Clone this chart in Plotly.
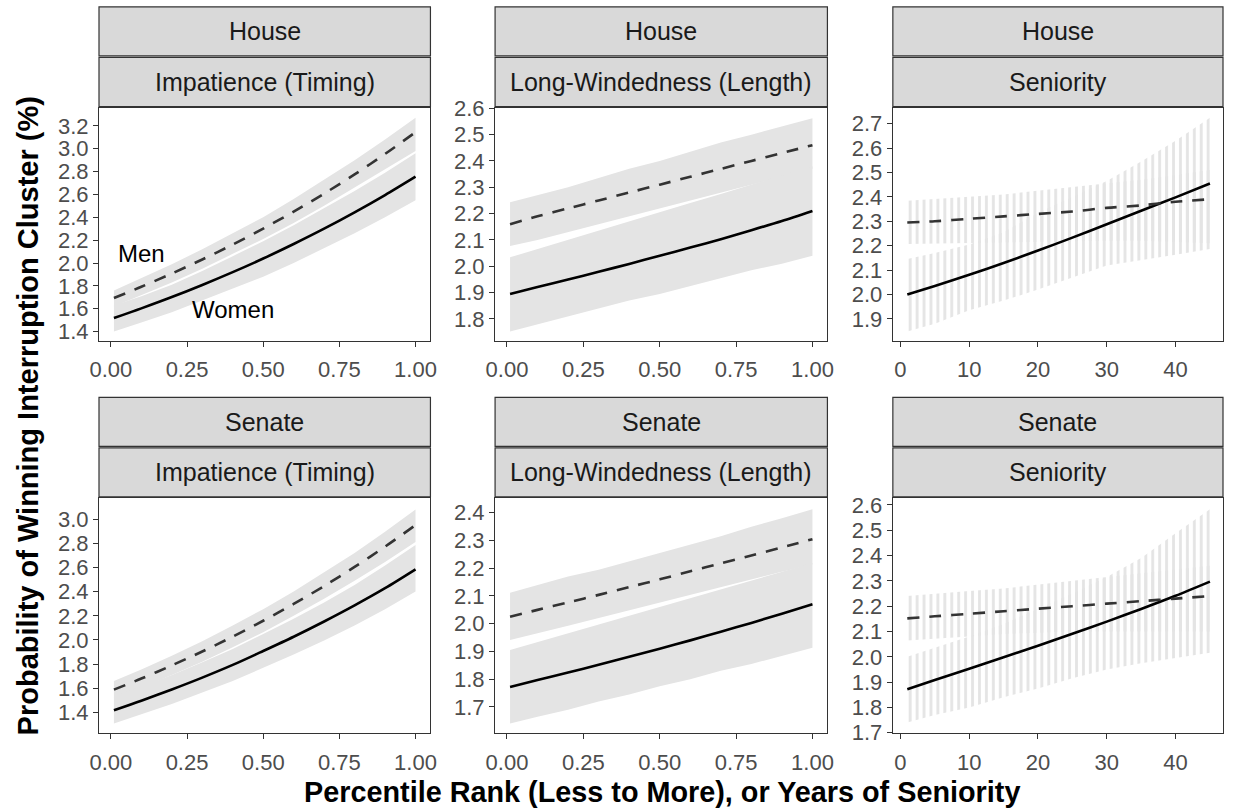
import plotly.graph_objects as go

# ---------------- data ----------------
chambers = ["House", "Senate"]
measures = ["Impatience (Timing)", "Long-Windedness (Length)", "Seniority"]

XP = [0.01, 0.1, 0.2, 0.3, 0.4, 0.5, 0.6, 0.7, 0.8, 0.9, 1.0]
XS = [1, 5, 10, 15, 20, 25, 30, 35, 40, 45]

# House - Impatience
h_imp_w = [1.518, 1.603, 1.702, 1.808, 1.920, 2.039, 2.166, 2.300, 2.443, 2.594, 2.755]
h_imp_w_lo = [1.40, 1.48, 1.57, 1.67, 1.775, 1.88, 2.00, 2.13, 2.26, 2.40, 2.55]
h_imp_w_hi = [1.63, 1.71, 1.81, 1.93, 2.06, 2.19, 2.33, 2.48, 2.63, 2.79, 2.96]
h_imp_m = [1.694, 1.792, 1.908, 2.031, 2.161, 2.301, 2.449, 2.607, 2.775, 2.954, 3.144]
h_imp_m_lo = [1.62, 1.72, 1.83, 1.95, 2.08, 2.21, 2.35, 2.50, 2.66, 2.82, 2.98]
h_imp_m_hi = [1.76, 1.87, 1.99, 2.12, 2.26, 2.40, 2.56, 2.73, 2.90, 3.08, 3.27]

# House - Long-Windedness
h_len_w = [1.895, 1.921, 1.950, 1.979, 2.009, 2.040, 2.071, 2.103, 2.137, 2.172, 2.21]
h_len_w_lo = [1.752, 1.78, 1.81, 1.84, 1.87, 1.895, 1.925, 1.955, 1.985, 2.01, 2.04]
h_len_w_hi = [2.034, 2.065, 2.10, 2.135, 2.17, 2.205, 2.24, 2.275, 2.31, 2.345, 2.38]
h_len_m = [2.16, 2.19, 2.22, 2.25, 2.28, 2.31, 2.34, 2.37, 2.40, 2.43, 2.46]
h_len_m_lo = [2.077, 2.10, 2.13, 2.16, 2.19, 2.22, 2.25, 2.28, 2.31, 2.34, 2.37]
h_len_m_hi = [2.243, 2.27, 2.30, 2.335, 2.37, 2.40, 2.435, 2.47, 2.50, 2.53, 2.562]

# House - Seniority
h_sen_w = [2.00, 2.035, 2.081, 2.129, 2.180, 2.233, 2.288, 2.343, 2.398, 2.455]
h_sen_w_lo = [1.848, 1.88, 1.935, 1.975, 2.02, 2.07, 2.119, 2.14, 2.163, 2.186]
h_sen_w_hi = [2.145, 2.17, 2.205, 2.255, 2.335, 2.40, 2.465, 2.545, 2.63, 2.724]
h_sen_m = [2.295, 2.30, 2.31, 2.32, 2.33, 2.34, 2.355, 2.365, 2.38, 2.39]
h_sen_m_lo = [2.207, 2.208, 2.21, 2.213, 2.215, 2.218, 2.22, 2.22, 2.215, 2.21]
h_sen_m_hi = [2.384, 2.39, 2.40, 2.41, 2.425, 2.44, 2.455, 2.47, 2.49, 2.51]

# Senate - Impatience
s_imp_w = [1.419, 1.498, 1.591, 1.689, 1.794, 1.909, 2.027, 2.153, 2.286, 2.428, 2.584]
s_imp_w_lo = [1.31, 1.385, 1.47, 1.565, 1.66, 1.77, 1.88, 1.995, 2.12, 2.255, 2.40]
s_imp_w_hi = [1.53, 1.615, 1.71, 1.815, 1.925, 2.05, 2.175, 2.31, 2.455, 2.615, 2.785]
s_imp_m = [1.59, 1.681, 1.790, 1.905, 2.028, 2.159, 2.298, 2.446, 2.604, 2.772, 2.95]
s_imp_m_lo = [1.52, 1.605, 1.71, 1.82, 1.94, 2.065, 2.20, 2.34, 2.49, 2.645, 2.81]
s_imp_m_hi = [1.66, 1.755, 1.87, 1.99, 2.12, 2.255, 2.40, 2.56, 2.72, 2.895, 3.08]

# Senate - Long-Windedness
s_len_w = [1.772, 1.797, 1.824, 1.852, 1.881, 1.910, 1.940, 1.971, 2.003, 2.036, 2.07]
s_len_w_lo = [1.64, 1.665, 1.69, 1.72, 1.745, 1.775, 1.80, 1.83, 1.855, 1.885, 1.913]
s_len_w_hi = [1.905, 1.934, 1.965, 1.997, 2.029, 2.06, 2.092, 2.124, 2.155, 2.187, 2.219]
s_len_m = [2.025, 2.050, 2.077, 2.104, 2.132, 2.160, 2.189, 2.218, 2.246, 2.275, 2.305]
s_len_m_lo = [1.941, 1.966, 1.993, 2.021, 2.049, 2.076, 2.104, 2.131, 2.159, 2.187, 2.214]
s_len_m_hi = [2.112, 2.14, 2.17, 2.195, 2.225, 2.255, 2.285, 2.315, 2.35, 2.38, 2.413]

# Senate - Seniority
s_sen_w = [1.872, 1.908, 1.953, 1.998, 2.044, 2.091, 2.139, 2.189, 2.241, 2.297]
s_sen_w_lo = [1.74, 1.77, 1.80, 1.84, 1.875, 1.915, 1.95, 1.975, 1.995, 2.016]
s_sen_w_hi = [2.0, 2.035, 2.08, 2.13, 2.19, 2.25, 2.315, 2.39, 2.488, 2.583]
s_sen_m = [2.152, 2.16, 2.17, 2.18, 2.19, 2.20, 2.21, 2.22, 2.23, 2.24]
s_sen_m_lo = [2.064, 2.07, 2.08, 2.09, 2.095, 2.10, 2.10, 2.10, 2.10, 2.10]
s_sen_m_hi = [2.24, 2.25, 2.26, 2.27, 2.285, 2.30, 2.315, 2.33, 2.345, 2.36]

pct_ticks = [0, 0.25, 0.5, 0.75, 1.0]
sen_ticks = [0, 10, 20, 30, 40]

panels = [
    # (row, col, x, women, w_lo, w_hi, men, m_lo, m_hi, yrange, dtick)
    (0, 0, XP, h_imp_w, h_imp_w_lo, h_imp_w_hi, h_imp_m, h_imp_m_lo, h_imp_m_hi, [1.321, 3.356], 0.2),
    (0, 1, XP, h_len_w, h_len_w_lo, h_len_w_hi, h_len_m, h_len_m_lo, h_len_m_hi, [1.7176, 2.6012], 0.1),
    (0, 2, XS, h_sen_w, h_sen_w_lo, h_sen_w_hi, h_sen_m, h_sen_m_lo, h_sen_m_hi, [1.811, 2.764], 0.1),
    (1, 0, XP, s_imp_w, s_imp_w_lo, s_imp_w_hi, s_imp_m, s_imp_m_lo, s_imp_m_hi, [1.231, 3.171], 0.2),
    (1, 1, XP, s_len_w, s_len_w_lo, s_len_w_hi, s_len_m, s_len_m_lo, s_len_m_hi, [1.606, 2.452], 0.1),
    (1, 2, XS, s_sen_w, s_sen_w_lo, s_sen_w_hi, s_sen_m, s_sen_m_lo, s_sen_m_hi, [1.699, 2.626], 0.1),
]

# ---------------- layout geometry (pixels) ----------------
W_PX, H_PX = 1235, 809
PLOT_L, PLOT_R, PLOT_T, PLOT_B = 99, 1229.3, 108.3, 732.7
ML, MT = PLOT_L, PLOT_T
MR, MB = W_PX - PLOT_R, H_PX - PLOT_B
PW = W_PX - ML - MR
PH = H_PX - MT - MB


def fx(x):
    return (x - PLOT_L) / PW


def fy(y):
    return (PLOT_B - y) / PH


def clamp(v):
    return max(0.0, min(1.0, v))


COLS = [(99, 432.3), (497.3, 831.5), (897.3, 1229.3)]
ROWS = [(108.3, 340.7), (498.3, 732.7)]

FONT = "Liberation Sans, Arial, sans-serif"
BAND = "#E4E4E4"
EDGE = "#333333"

fig = go.Figure()
layout = dict(
    width=W_PX, height=H_PX,
    margin=dict(l=ML, r=MR, t=MT, b=MB, pad=0),
    paper_bgcolor="white", plot_bgcolor="white",
    showlegend=False,
    font=dict(family=FONT),
)
shapes = []
annotations = []


def band(x, lo, hi, xa, ya, seniority):
    xs = list(x) + list(x)[::-1]
    ys = list(hi) + list(lo)[::-1]
    if seniority:
        return go.Scatter(
            x=xs, y=ys, xaxis=xa, yaxis=ya, mode="lines", line=dict(width=0),
            fill="toself", fillcolor="rgba(0,0,0,0)",
            fillpattern=dict(shape="|", fgcolor=BAND, bgcolor="rgba(0,0,0,0)",
                             size=6.93, solidity=0.4, fillmode="replace"),
            hoverinfo="skip")
    return go.Scatter(
        x=xs, y=ys, xaxis=xa, yaxis=ya, mode="lines", line=dict(width=0),
        fill="toself", fillcolor=BAND, hoverinfo="skip")


for i, (r, c, x, w, wlo, whi, m, mlo, mhi, yr, dt) in enumerate(panels):
    n = i + 1
    xa = "x" if n == 1 else f"x{n}"
    ya = "y" if n == 1 else f"y{n}"
    xkey = "xaxis" if n == 1 else f"xaxis{n}"
    ykey = "yaxis" if n == 1 else f"yaxis{n}"
    sen = (c == 2)

    fig.add_trace(band(x, mlo, mhi, xa, ya, sen))
    fig.add_trace(band(x, wlo, whi, xa, ya, sen))
    fig.add_trace(go.Scatter(x=x, y=w, xaxis=xa, yaxis=ya, mode="lines",
                             line=dict(color="black", width=2.6, shape="spline",
                                       smoothing=0.8),
                             hoverinfo="skip"))
    fig.add_trace(go.Scatter(x=x, y=m, xaxis=xa, yaxis=ya, mode="lines",
                             line=dict(color="#333333", width=2.6, dash="12px,10px",
                                       shape="spline", smoothing=0.8),
                             hoverinfo="skip"))

    x0, x1 = COLS[c]
    ytop, ybot = ROWS[r]
    common = dict(showgrid=False, zeroline=False, showline=True, mirror=True,
                  linecolor=EDGE, linewidth=1.2, ticks="outside", ticklen=5,
                  tickwidth=1.1, tickcolor=EDGE,
                  tickfont=dict(size=22, color="#4D4D4D", family=FONT))
    if sen:
        xrange = [-1.1, 46.9]
        xt = dict(tickvals=sen_ticks, ticktext=[str(v) for v in sen_ticks])
    else:
        xrange = [-0.039, 1.049]
        xt = dict(tickvals=pct_ticks, ticktext=[f"{v:.2f}" for v in pct_ticks])
    layout[xkey] = dict(domain=[clamp(fx(x0)), clamp(fx(x1))], range=xrange,
                        anchor=ya, ticklabelstandoff=4, **xt, **common)
    layout[ykey] = dict(domain=[clamp(fy(ybot)), clamp(fy(ytop))], range=yr, anchor=xa,
                        dtick=dt, tick0=0, tickformat=".1f", **common)

    # strips
    strips = [(chambers[r], ytop - 101.0, ytop - 52.0),
              (measures[c], ytop - 50.5, ytop - 1.4)]
    for txt, st, sb in strips:
        shapes.append(dict(type="rect", xref="paper", yref="paper",
                           x0=fx(x0), x1=fx(x1), y0=fy(sb), y1=fy(st),
                           fillcolor="#D9D9D9", line=dict(color=EDGE, width=1.2),
                           layer="above"))
        annotations.append(dict(xref="paper", yref="paper",
                                x=fx((x0 + x1) / 2), y=fy((st + sb) / 2),
                                text=txt, showarrow=False,
                                font=dict(size=25, color="#1A1A1A", family=FONT),
                                xanchor="center", yanchor="middle"))

# in-panel labels
annotations.append(dict(xref="x", yref="y", x=0.10, y=2.08, text="Men", showarrow=False,
                        font=dict(size=24, color="black", family=FONT)))
annotations.append(dict(xref="x", yref="y", x=0.40, y=1.59, text="Women", showarrow=False,
                        font=dict(size=24, color="black", family=FONT)))

# axis titles
annotations.append(dict(xref="paper", yref="paper", x=fx(665), y=fy(792),
                        text="<b>Percentile Rank (Less to More), or Years of Seniority</b>",
                        showarrow=False, xanchor="center", yanchor="middle",
                        font=dict(size=28.8, color="black", family=FONT)))
annotations.append(dict(xref="paper", yref="paper", x=fx(28), y=fy(416),
                        text="<b>Probability of Winning Interruption Cluster (%)</b>",
                        showarrow=False, textangle=-90, xanchor="center", yanchor="middle",
                        font=dict(size=29, color="black", family=FONT)))

layout["shapes"] = shapes
layout["annotations"] = annotations
fig.update_layout(**layout)
fig.write_html(
    "out.html",
    config={"displayModeBar": False},
    post_script="document.body.style.margin='0px';document.body.style.overflow='hidden';",
)
